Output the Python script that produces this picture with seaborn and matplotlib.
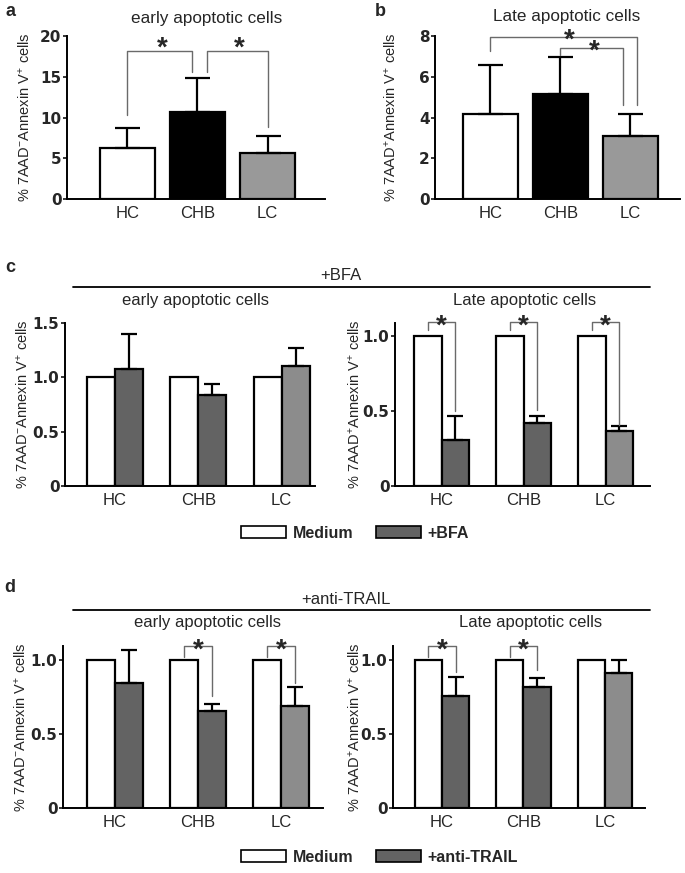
import seaborn as sns
import pandas as pd
import matplotlib.pyplot as plt
import matplotlib.patches as mpatches

# datos
grupos = ["HC", "CHB", "LC"]

# a / b: porcentaje de celulas
early_media = [6.2, 10.7, 5.6]
early_sem = [2.5, 4.2, 2.1]
late_media = [4.17, 5.15, 3.09]
late_sem = [2.4, 1.8, 1.08]

# c: normalizado a medium, +BFA
bfa_early = [1.08, 0.84, 1.10]
bfa_early_err = [0.32, 0.10, 0.17]
bfa_late = [0.31, 0.42, 0.365]
bfa_late_err = [0.16, 0.045, 0.035]

# d: normalizado a medium, +anti-TRAIL
trail_early = [0.847, 0.655, 0.69]
trail_early_err = [0.22, 0.045, 0.13]
trail_late = [0.76, 0.82, 0.914]
trail_late_err = [0.127, 0.056, 0.086]

medium = [1.0, 1.0, 1.0]

W, H = 685, 873
sns.set_style("white")
plt.rcParams["font.family"] = ["Liberation Sans", "DejaVu Sans"]
plt.rcParams["mathtext.fontset"] = "custom"
plt.rcParams["mathtext.rm"] = "Liberation Sans"
plt.rcParams["mathtext.it"] = "Liberation Sans:italic"

fig = plt.figure(figsize=(W / 100, H / 100), dpi=100)

YLAB_NEG = r"% 7AAD$^{-}$Annexin V$^{+}$ cells"
YLAB_POS = r"% 7AAD$^{+}$Annexin V$^{+}$ cells"
GRIS_OSC = "#636363"
GRIS_LC = "#8c8c8c"
BRK = "#6a6a6a"


def nuevo_ax(l, t, r, b):
    return fig.add_axes([l / W, 1 - b / H, (r - l) / W, (b - t) / H])


def estilo(ax, ylim, ticks, ticklabels, ylabel, off_px):
    ax.set_ylim(*ylim)
    ax.set_yticks(ticks)
    ax.set_yticklabels(ticklabels, fontfamily="DejaVu Sans", fontweight="bold", fontsize=11)
    ax.tick_params(axis="y", length=3, width=1.3, pad=1, left=True, direction="out")
    ax.tick_params(axis="x", length=0, pad=5, labelsize=12)
    sns.despine(ax=ax)
    for s in ["left", "bottom"]:
        ax.spines[s].set_linewidth(1.4)
        ax.spines[s].set_color("black")
    ax.set_xlabel("")
    ax.set_ylabel(ylabel, fontsize=10.5)
    pos = ax.get_position()
    ax.yaxis.set_label_coords(-off_px / (pos.width * W), 0.5)


def barras_error(ax, patches, vals, errs, cap):
    xs = [p.get_x() + p.get_width() / 2 for p in patches]
    ax.errorbar(xs, vals, yerr=[[0] * len(errs), errs], fmt="none", ecolor="black",
                elinewidth=1.6, capsize=cap, capthick=1.6, zorder=1)


def corchete(ax, x1, x2, y1, ytop, y2, xs, ys):
    ax.plot([x1, x1, x2, x2], [y1, ytop, ytop, y2], color=BRK, lw=1.0, clip_on=False)
    # el asterisco queda alto en la linea: bajar la linea base para centrarlo en ys
    ax.annotate("*", xy=(xs, ys), xytext=(0, -11.5), textcoords="offset points",
                ha="center", va="baseline", fontsize=20, fontweight="bold",
                annotation_clip=False)


def simple(ax, vals, errs, ylim, ticks, labels, ylabel, off):
    sns.barplot(x=grupos, y=vals, hue=grupos, palette=["white", "black", "#999999"],
                edgecolor="black", linewidth=1.6, width=0.79, legend=False, ax=ax)
    patches = [c.patches[0] for c in ax.containers]
    barras_error(ax, patches, vals, errs, 9)
    estilo(ax, ylim, ticks, labels, ylabel, off)


def agrupado(ax, trat, vals, errs, ylim, ticks, labels, ylabel, off, xlim):
    df = pd.DataFrame({"grupo": grupos * 2,
                       "valor": medium + vals,
                       "cond": ["Medium"] * 3 + [trat] * 3})
    sns.barplot(data=df, x="grupo", y="valor", hue="cond", palette=["white", GRIS_OSC],
                edgecolor="black", linewidth=1.6, width=0.67, legend=False, ax=ax)
    # LC tratado en gris mas claro
    ax.containers[1].patches[2].set_facecolor(GRIS_LC)
    barras_error(ax, ax.containers[1].patches, vals, errs, 6)
    estilo(ax, ylim, ticks, labels, ylabel, off)
    ax.set_xlim(*xlim)


# ---- a ----
ax_a = nuevo_ax(67, 36, 325, 199)
simple(ax_a, early_media, early_sem, (0, 20), [0, 5, 10, 15, 20],
       ["0", "5", "10", "15", "20"], YLAB_NEG, 34)
ax_a.set_xlim(-0.86, 2.82)
corchete(ax_a, 0, 0.92, 10.3, 18.1, 15.6, 0.5, 19.5)
corchete(ax_a, 1.14, 2.0, 15.6, 18.1, 8.8, 1.6, 19.5)

# ---- b ----
ax_b = nuevo_ax(435, 36, 680, 199)
simple(ax_b, late_media, late_sem, (0, 8), [0, 2, 4, 6, 8],
       ["0", "2", "4", "6", "8"], YLAB_POS, 36)
ax_b.set_xlim(-0.79, 2.71)
corchete(ax_b, 0, 2.1, 7.27, 7.93, 4.6, 1.13, 8.2)
corchete(ax_b, 0.99, 1.89, 7.06, 7.39, 4.6, 1.48, 7.65)

# ---- c ----
ax_c1 = nuevo_ax(65, 323, 315, 486)
agrupado(ax_c1, "+BFA", bfa_early, bfa_early_err, (0, 1.5), [0, 0.5, 1.0, 1.5],
         ["0", "0.5", "1.0", "1.5"], YLAB_NEG, 34, (-0.6, 2.4))
ax_c2 = nuevo_ax(395, 323, 650, 486)
agrupado(ax_c2, "+BFA", bfa_late, bfa_late_err, (0, 1.09), [0, 0.5, 1.0],
         ["0", "0.5", "1.0"], YLAB_POS, 32, (-0.57, 2.54))
for g, y2 in zip([0, 1, 2], [0.5, 0.51, 0.41]):
    corchete(ax_c2, g - 0.1675, g + 0.1675, 1.04, 1.095, y2, g, 1.127)

# ---- d ----
ax_d1 = nuevo_ax(63, 646, 323, 808)
agrupado(ax_d1, "+anti-TRAIL", trail_early, trail_early_err, (0, 1.095), [0, 0.5, 1.0],
         ["0", "0.5", "1.0"], YLAB_NEG, 34, (-0.62, 2.5))
for g, y2 in zip([1, 2], [0.757, 0.847]):
    corchete(ax_d1, g - 0.1675, g + 0.1675, 1.02, 1.095, y2, g, 1.124)
ax_d2 = nuevo_ax(393, 646, 645, 808)
agrupado(ax_d2, "+anti-TRAIL", trail_late, trail_late_err, (0, 1.095), [0, 0.5, 1.0],
         ["0", "0.5", "1.0"], YLAB_POS, 30, (-0.6, 2.49))
for g, y2 in zip([0, 1], [0.92, 0.93]):
    corchete(ax_d2, g - 0.1675, g + 0.1675, 1.02, 1.095, y2, g, 1.124)


# ---- textos de la figura ----
def ftexto(x, y, s, **kw):
    fig.text(x / W, 1 - y / H, s, ha="center", va="center", **kw)


ftexto(207, 18, "early apoptotic cells", fontsize=12.3)
ftexto(567, 17, "Late apoptotic cells", fontsize=12.3)
ftexto(196, 301, "early apoptotic cells", fontsize=12)
ftexto(525, 301, "Late apoptotic cells", fontsize=12)
ftexto(208, 623, "early apoptotic cells", fontsize=12)
ftexto(531, 623, "Late apoptotic cells", fontsize=12)
ftexto(341, 275, "+BFA", fontsize=12)
ftexto(346, 599, "+anti-TRAIL", fontsize=12)

for x, y, s in [(10, 12, "a"), (380, 12, "b"), (10, 268, "c"), (10, 588, "d")]:
    ftexto(x, y, s, fontsize=13, fontweight="bold")

for y in [287, 610]:
    fig.add_artist(plt.Line2D([73 / W, 650 / W], [1 - y / H, 1 - y / H], color="black", lw=1.3))

# leyendas
for y, trat in [(533, "+BFA"), (857, "+anti-TRAIL")]:
    handles = [mpatches.Patch(facecolor="white", edgecolor="black", lw=1.2, label="Medium"),
               mpatches.Patch(facecolor=GRIS_OSC, edgecolor="black", lw=1.2, label=trat)]
    fig.legend(handles=handles, loc="center left", bbox_to_anchor=(233 / W, 1 - y / H),
               ncol=2, frameon=False, borderpad=0, handlelength=2.8, handleheight=0.75,
               handletextpad=0.45, columnspacing=1.4,
               prop={"weight": "bold", "size": 11.5})

plt.savefig("out.png", dpi=100)
